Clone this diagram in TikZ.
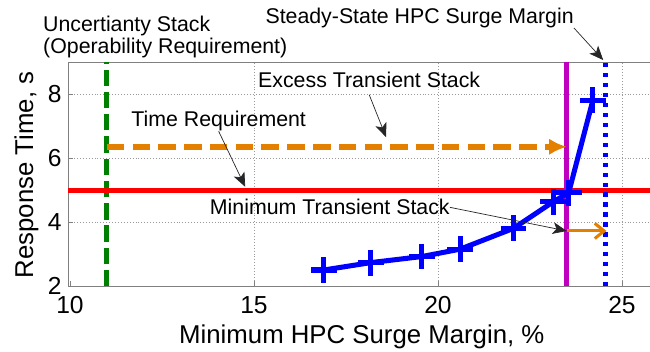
\documentclass[tikz,border=0pt]{standalone}
\usepackage{fontspec}
\setmainfont{Liberation Sans}
\usetikzlibrary{arrows.meta}
\definecolor{stackgreen}{RGB}{0,128,0}
\definecolor{stackorange}{RGB}{227,128,0}
\definecolor{stackmagenta}{RGB}{191,0,191}
\definecolor{surgeblue}{RGB}{0,0,255}
\definecolor{reqred}{RGB}{255,0,0}

\begin{document}
\begin{tikzpicture}[x=1.104cm, y=0.96cm,
            annot/.style={font=\fontsize{18.2}{19.3}\selectfont, inner sep=0pt},
            ticklabel/.style={font=\fontsize{21}{24}\selectfont, inner sep=0pt},
            axislabel/.style={font=\fontsize{22}{26}\selectfont, inner sep=0pt},
            annarrow/.style={-{Stealth[length=12pt, width=10pt, inset=3pt]}, line width=0.6pt, black!85},
            gridline/.style={gray!80, dotted, line width=0.5pt},
            axisline/.style={gray, line width=0.8pt},
            stackline/.style={line width=4.3pt}
        ]
        \useasboundingbox (8.098,-0.022) rectangle (25.761,10.947);

        % grid and axes
        \foreach \gx in {15,20,25}
            \draw[gridline] (\gx,2) -- (\gx,9);
        \foreach \gy in {4,6,8}
            \draw[gridline] (9.95,\gy) -- (25.76,\gy);
        \draw[axisline] (25.76,9) -- (9.95,9) -- (9.95,2) -- (25.76,2);
        \foreach \gx in {10,15,20,25}
            \draw[axisline] (\gx,2) -- (\gx,2.16);
        \foreach \gy in {4,6,8}
            \draw[axisline] (9.95,\gy) -- (10.09,\gy);

        \foreach \gx in {10,15,20,25}
            \node[ticklabel, anchor=north] (xt\gx) at (\gx,1.68) {\gx};
        \foreach \gy in {2,4,6,8}
            \node[ticklabel, anchor=east] (yt\gy) at (9.78,\gy) {\gy};
        \node[axislabel, anchor=base] (xlab) at (17.93,0.22) {Minimum HPC Surge Margin, \%};
        \node[axislabel, anchor=base, rotate=90] (ylab) at (8.995,5.48) {Response Time, s};

        % stack lines
        \draw[stackline, stackgreen, dash pattern=on 14pt off 5pt] (11,2) -- (11,9);
        \draw[stackline, reqred] (9.95,5) -- (25.76,5);
        \draw[stackline, stackmagenta] (23.5,2) -- (23.5,9);
        \draw[stackline, surgeblue, dash pattern=on 3.6pt off 4.9pt] (24.55,2) -- (24.55,9);

        \coordinate (excessstart) at (11,6.36);
        \coordinate (excessend) at (23.5,6.36);
        \draw[stackline, stackorange, line width=4.8pt, dash pattern=on 15pt off 7pt,
              -{Latex[length=15pt, width=14pt]}] (excessstart) -- (excessend);
        \coordinate (minstart) at (23.5,3.73);
        \coordinate (minend) at (24.58,3.73);
        \draw[stackorange, line width=2.6pt,
              -{Straight Barb[length=8pt, width=13pt]}] (minstart) -- (minend);

        % response curve
        \draw[surgeblue, line width=4.3pt, line join=round, mark size=11pt]
            plot[mark=+] coordinates {(16.9,2.51) (18.17,2.74) (19.56,2.93) (20.6,3.16)
                (22.05,3.81) (23.13,4.64) (23.55,4.92) (24.21,7.82)};

        % annotations
        \node[annot, align=left, anchor=north west] (uncert) at (9.266,10.46)
            {Uncertianty Stack\\(Operability Requirement)};
        \node[annot, anchor=base] (steady) at (19.5,10.22) {Steady-State HPC Surge Margin};
        \node[annot, anchor=base] (excess) at (18.13,8.22) {Excess Transient Stack};
        \node[annot, anchor=base] (treq) at (14.04,6.99) {Time Requirement};
        \node[annot, anchor=base] (mintrans) at (17.06,4.23) {Minimum Transient Stack};

        \coordinate (steadytip) at (24.49,9.07);
        \coordinate (excesstip) at (18.59,6.66);
        \coordinate (treqtip) at (14.76,5.11);
        \coordinate (mintranstip) at (23.5,3.73);

        \draw[annarrow] (steady.south east) -- (steadytip);
        \draw[annarrow] ([yshift=-6pt]excess.south) -- (excesstip);
        \draw[annarrow] (treq.south) -- (treqtip);
        \draw[annarrow] (mintrans.east) -- (mintranstip);
\end{tikzpicture}
\end{document}
